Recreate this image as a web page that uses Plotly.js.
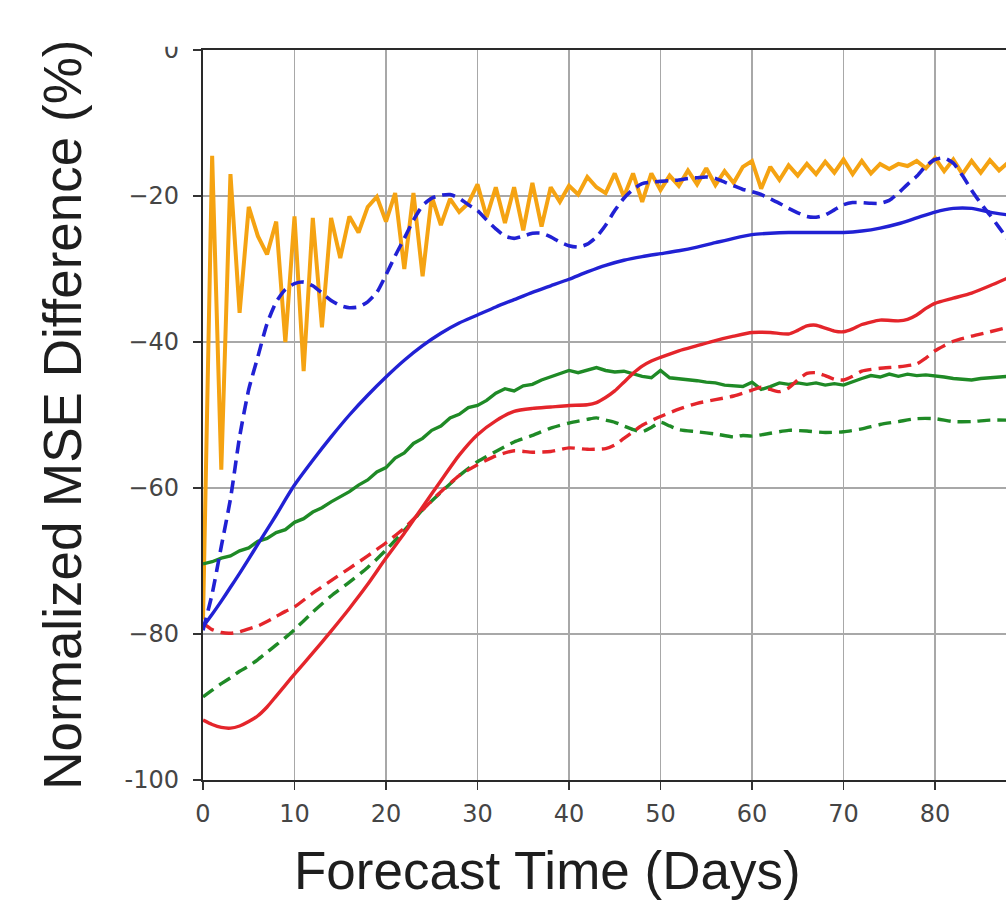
<!DOCTYPE html>
<html>
<head>
<meta charset="utf-8">
<script src="https://cdn.plot.ly/plotly-3.0.1.min.js"></script>
<style>
  html, body { margin: 0; padding: 0; background: #ffffff; }
  #chart { width: 1006px; height: 900px; }
</style>
</head>
<body>
<div id="chart"></div>
<script>
// Forecast lead time in days (daily series)
const dailyDays = [0,1,2,3,4,5,6,7,8,9,10,11,12,13,14,15,16,17,18,19,20,21,22,23,24,25,26,27,28,29,30,
  31,32,33,34,35,36,37,38,39,40,41,42,43,44,45,46,47,48,49,50,51,52,53,54,55,56,57,58,59,60,
  61,62,63,64,65,66,67,68,69,70,71,72,73,74,75,76,77,78,79,80,81,82,83,84,85,86,87,88];

// Orange solid (noisy)
const orangeVals = [-78,-14.5,-57.5,-17,-36,-21.5,-25.5,-28,-23.5,-40,-22.8,-44,-23,-38,-23,-28.5,-22.8,-25,-21.5,-20.1,
  -23.5,-19.6,-30,-19.6,-31,-20.1,-24,-20.4,-22.2,-21,-18.4,-22.9,-18.8,-23.7,-18.8,-24.7,-18.2,-24.2,-18.8,-20.8,
  -18.6,-19.8,-17.4,-18.8,-19.6,-16.9,-20.1,-16.9,-20.8,-16.9,-19.2,-17.2,-18.6,-16.5,-18.4,-16.2,-18.5,-16.6,-18.2,-16,
  -15.2,-19,-16,-17.8,-15.8,-17.2,-15.6,-17,-15.3,-16.8,-15,-17,-15.2,-16.9,-15.6,-16.3,-15.6,-15.9,-15.2,-16.2,
  -14.8,-16.6,-15,-17,-15.2,-16.8,-15.1,-16.5,-15.4];

// Blue solid
const blueSolidDays = [0,1,2,3,4,5,6,7,8,9,10,12,14,16,18,20,22,24,26,28,30,32,34,36,38,40,42,44,46,48,50,
  52,54,56,58,60,62,64,66,68,70,72,74,76,78,80,82,84,86,88];
const blueSolidVals = [-79,-77.3,-75.5,-73.6,-71.7,-69.7,-67.7,-65.7,-63.7,-61.6,-59.6,-56.2,-53,-50,-47.3,-44.8,
  -42.5,-40.5,-38.8,-37.4,-36.3,-35.2,-34.2,-33.2,-32.3,-31.4,-30.4,-29.5,-28.8,-28.3,-27.9,-27.5,-27,-26.4,-25.8,
  -25.3,-25.1,-25,-25,-25,-25,-24.8,-24.4,-23.8,-23,-22.2,-21.7,-21.7,-22.2,-22.6];

// Blue dashed (daily)
const blueDashVals = [-79.5,-74.5,-68,-61.5,-53,-46.5,-42,-37.5,-34.5,-32.8,-32,-31.8,-32.3,-33.3,-34.3,-35,-35.3,
  -35.2,-34.5,-33.2,-30.8,-28.2,-25.8,-23.3,-21.3,-20.3,-19.9,-19.8,-20.3,-21.2,-22,-23.3,-24.5,-25.5,-25.8,-25.5,
  -25.1,-25.1,-25.6,-26.3,-26.8,-27,-26.6,-25.6,-24,-22,-20.3,-19.1,-18.3,-18.1,-18,-17.9,-17.8,-17.6,-17.5,-17.4,
  -17.6,-18.1,-18.6,-19.1,-19.4,-19.8,-20.4,-21,-21.7,-22.3,-22.8,-22.9,-22.6,-21.9,-21.2,-20.9,-20.9,-21,-21,
  -20.6,-19.6,-18.4,-17.3,-15.9,-15,-14.8,-15.5,-17.2,-19.2,-21,-22.6,-24.3,-26];

// Red solid
const redSolidDays = [0,1,2,3,4,5,6,7,8,9,10,12,14,16,18,20,22,24,26,28,30,32,34,36,38,40,42,43,44,45,46,47,48,49,50,
  52,54,56,58,60,62,64,65,66,67,68,69,70,71,72,74,76,77,78,79,80,82,84,86,88];
const redSolidVals = [-91.8,-92.4,-92.8,-92.9,-92.6,-92,-91.2,-90,-88.5,-87,-85.5,-82.6,-79.6,-76.5,-73.2,-69.6,
  -66.2,-62.6,-59,-55.5,-52.7,-50.8,-49.5,-49.1,-48.9,-48.7,-48.6,-48.3,-47.6,-46.7,-45.5,-44.3,-43.3,-42.6,-42.1,
  -41.2,-40.5,-39.8,-39.2,-38.7,-38.7,-38.9,-38.4,-37.8,-37.7,-38.1,-38.5,-38.6,-38.2,-37.6,-37,-37.1,-36.9,-36.3,
  -35.4,-34.7,-34,-33.3,-32.3,-31.2];

// Red dashed
const redDashDays = [0,1,2,3,4,5,6,7,8,9,10,12,14,16,18,20,22,24,26,28,30,32,34,36,38,40,42,44,45,46,47,48,
  50,52,54,56,58,60,61,62,63,64,65,66,67,68,69,70,71,72,74,76,78,79,80,81,82,84,86,88];
const redDashVals = [-78.5,-79.4,-79.8,-79.9,-79.7,-79.3,-78.9,-78.3,-77.6,-76.9,-76.3,-74.4,-72.7,-71,-69.3,-67.5,
  -65.5,-63,-60.5,-58.3,-56.8,-55.6,-54.9,-55.1,-55,-54.5,-54.7,-54.6,-54.1,-53.2,-52.3,-51.4,-50.2,-49.2,-48.4,
  -47.9,-47.4,-46.6,-46.2,-46.5,-46.8,-46.3,-45.2,-44.3,-44.2,-44.6,-45.1,-45.2,-44.7,-44,-43.6,-43.4,-43,-42.2,
  -41.2,-40.5,-39.9,-39.2,-38.6,-38];

// Green solid (daily)
const greenSolidVals = [-70.4,-70.1,-69.6,-69.3,-68.6,-68.2,-67.3,-66.9,-66.1,-65.7,-64.7,-64.2,-63.3,-62.7,-61.9,
  -61.2,-60.5,-59.6,-58.9,-57.8,-57.2,-55.9,-55.2,-53.9,-53.2,-52.1,-51.5,-50.4,-49.9,-49,-48.7,-48,-47,-46.4,-46.7,
  -46,-45.8,-45.2,-44.8,-44.3,-43.9,-44.2,-43.8,-43.5,-43.9,-44.1,-44,-44.4,-44.7,-44.9,-43.9,-44.9,-45,-45.2,-45.3,
  -45.5,-45.6,-45.9,-46,-46.1,-45.5,-46.5,-46.1,-45.6,-45.8,-45.6,-45.8,-45.6,-45.9,-45.7,-45.9,-45.4,-45,-44.6,
  -44.8,-44.4,-44.7,-44.4,-44.6,-44.5,-44.6,-44.8,-45,-45.1,-45.2,-45,-44.9,-44.8,-44.7];

// Green dashed
const greenDashDays = [0,1,2,3,4,5,6,7,8,9,10,12,14,16,18,20,22,24,26,28,30,32,34,36,38,40,42,43,44,45,46,47,48,
  49,50,51,52,54,56,58,59,60,62,64,66,68,70,72,74,76,78,80,82,84,86,88];
const greenDashVals = [-88.6,-87.7,-86.8,-86,-85.1,-84.4,-83.5,-82.5,-81.5,-80.5,-79.4,-77,-74.8,-72.9,-70.9,-68.5,
  -65.8,-63,-60.6,-58.3,-56.4,-55,-53.7,-52.8,-51.8,-51.1,-50.6,-50.4,-50.7,-51,-51.5,-52,-52.3,-51.7,-51,-51.5,
  -52,-52.3,-52.6,-53,-52.8,-52.9,-52.5,-52.1,-52.2,-52.4,-52.3,-51.9,-51.3,-50.9,-50.5,-50.5,-50.9,-50.9,-50.7,-50.7];

// Axis tick labels
const xTickVals = [0,10,20,30,40,50,60,70,80];
const xTickText = ['0','10','20','30','40','50','60','70','80'];
const yTickVals = [-100,-80,-60,-40,-20,0];
const yTickText = ['-100','\u221280','\u221260','\u221240','\u221220','0'];

const ORANGE = '#f5a312';
const BLUE = '#2121d4';
const RED = '#e4252b';
const GREEN = '#1f8a26';
const DASH = '13px,7px';

function line(x, y, color, width, dash, shape) {
  return {
    x: x, y: y, type: 'scatter', mode: 'lines', showlegend: false, hoverinfo: 'skip',
    line: { color: color, width: width, dash: dash || 'solid', shape: shape || 'spline', smoothing: 0.6 }
  };
}

const traces = [
  line(dailyDays, orangeVals, ORANGE, 4, 'solid', 'linear'),
  line(dailyDays, greenSolidVals, GREEN, 3.4, 'solid', 'linear'),
  line(greenDashDays, greenDashVals, GREEN, 3.4, DASH),
  line(redSolidDays, redSolidVals, RED, 3.4),
  line(redDashDays, redDashVals, RED, 3.4, DASH),
  line(blueSolidDays, blueSolidVals, BLUE, 3.4),
  line(dailyDays, blueDashVals, BLUE, 3.6, DASH)
];

const tickFont = { family: 'DejaVu Sans, sans-serif', size: 24, color: '#454545' };
const titleFont = { family: 'Liberation Sans, Arial, sans-serif', size: 53, color: '#1e1e1e' };

const layout = {
  width: 1006,
  height: 900,
  margin: { l: 203, r: 0, t: 50, b: 120, pad: 0 },
  paper_bgcolor: '#ffffff',
  plot_bgcolor: '#ffffff',
  xaxis: {
    range: [0, 87.76],
    tickmode: 'array', tickvals: xTickVals, ticktext: xTickText,
    ticks: 'outside', ticklen: 8, tickwidth: 1.6, tickcolor: '#333333',
    tickfont: tickFont, ticklabelstandoff: 3,
    showgrid: true, gridcolor: '#a8a8a8', gridwidth: 1.7,
    showline: true, linecolor: '#2a2a2a', linewidth: 2.2, mirror: true,
    zeroline: false, fixedrange: true
  },
  yaxis: {
    range: [-100, 0],
    tickmode: 'array', tickvals: yTickVals, ticktext: yTickText,
    ticks: 'outside', ticklen: 8, tickwidth: 1.6, tickcolor: '#333333',
    tickfont: tickFont, ticklabelstandoff: 9,
    showgrid: true, gridcolor: '#a8a8a8', gridwidth: 1.7,
    showline: true, linecolor: '#2a2a2a', linewidth: 2.2, mirror: false,
    zeroline: false, fixedrange: true
  },
  shapes: [
    // the figure is trimmed just above the plot frame
    { type: 'rect', xref: 'paper', yref: 'paper', x0: -0.3, x1: -0.01, y0: 1.0045, y1: 1.1,
      fillcolor: '#ffffff', line: { width: 0 }, layer: 'above' }
  ],
  annotations: [
    { text: 'Normalized MSE Difference (%)', xref: 'paper', yref: 'paper', x: -0.176, y: 0.5,
      xanchor: 'center', yanchor: 'middle', textangle: -90, showarrow: false, font: titleFont },
    { text: 'Forecast Time (Days)', xref: 'paper', yref: 'paper', x: 0.4284, y: -0.1245,
      xanchor: 'center', yanchor: 'middle', showarrow: false, font: titleFont }
  ]
};

Plotly.newPlot('chart', traces, layout, { displayModeBar: false, staticPlot: true });
</script>
</body>
</html>
